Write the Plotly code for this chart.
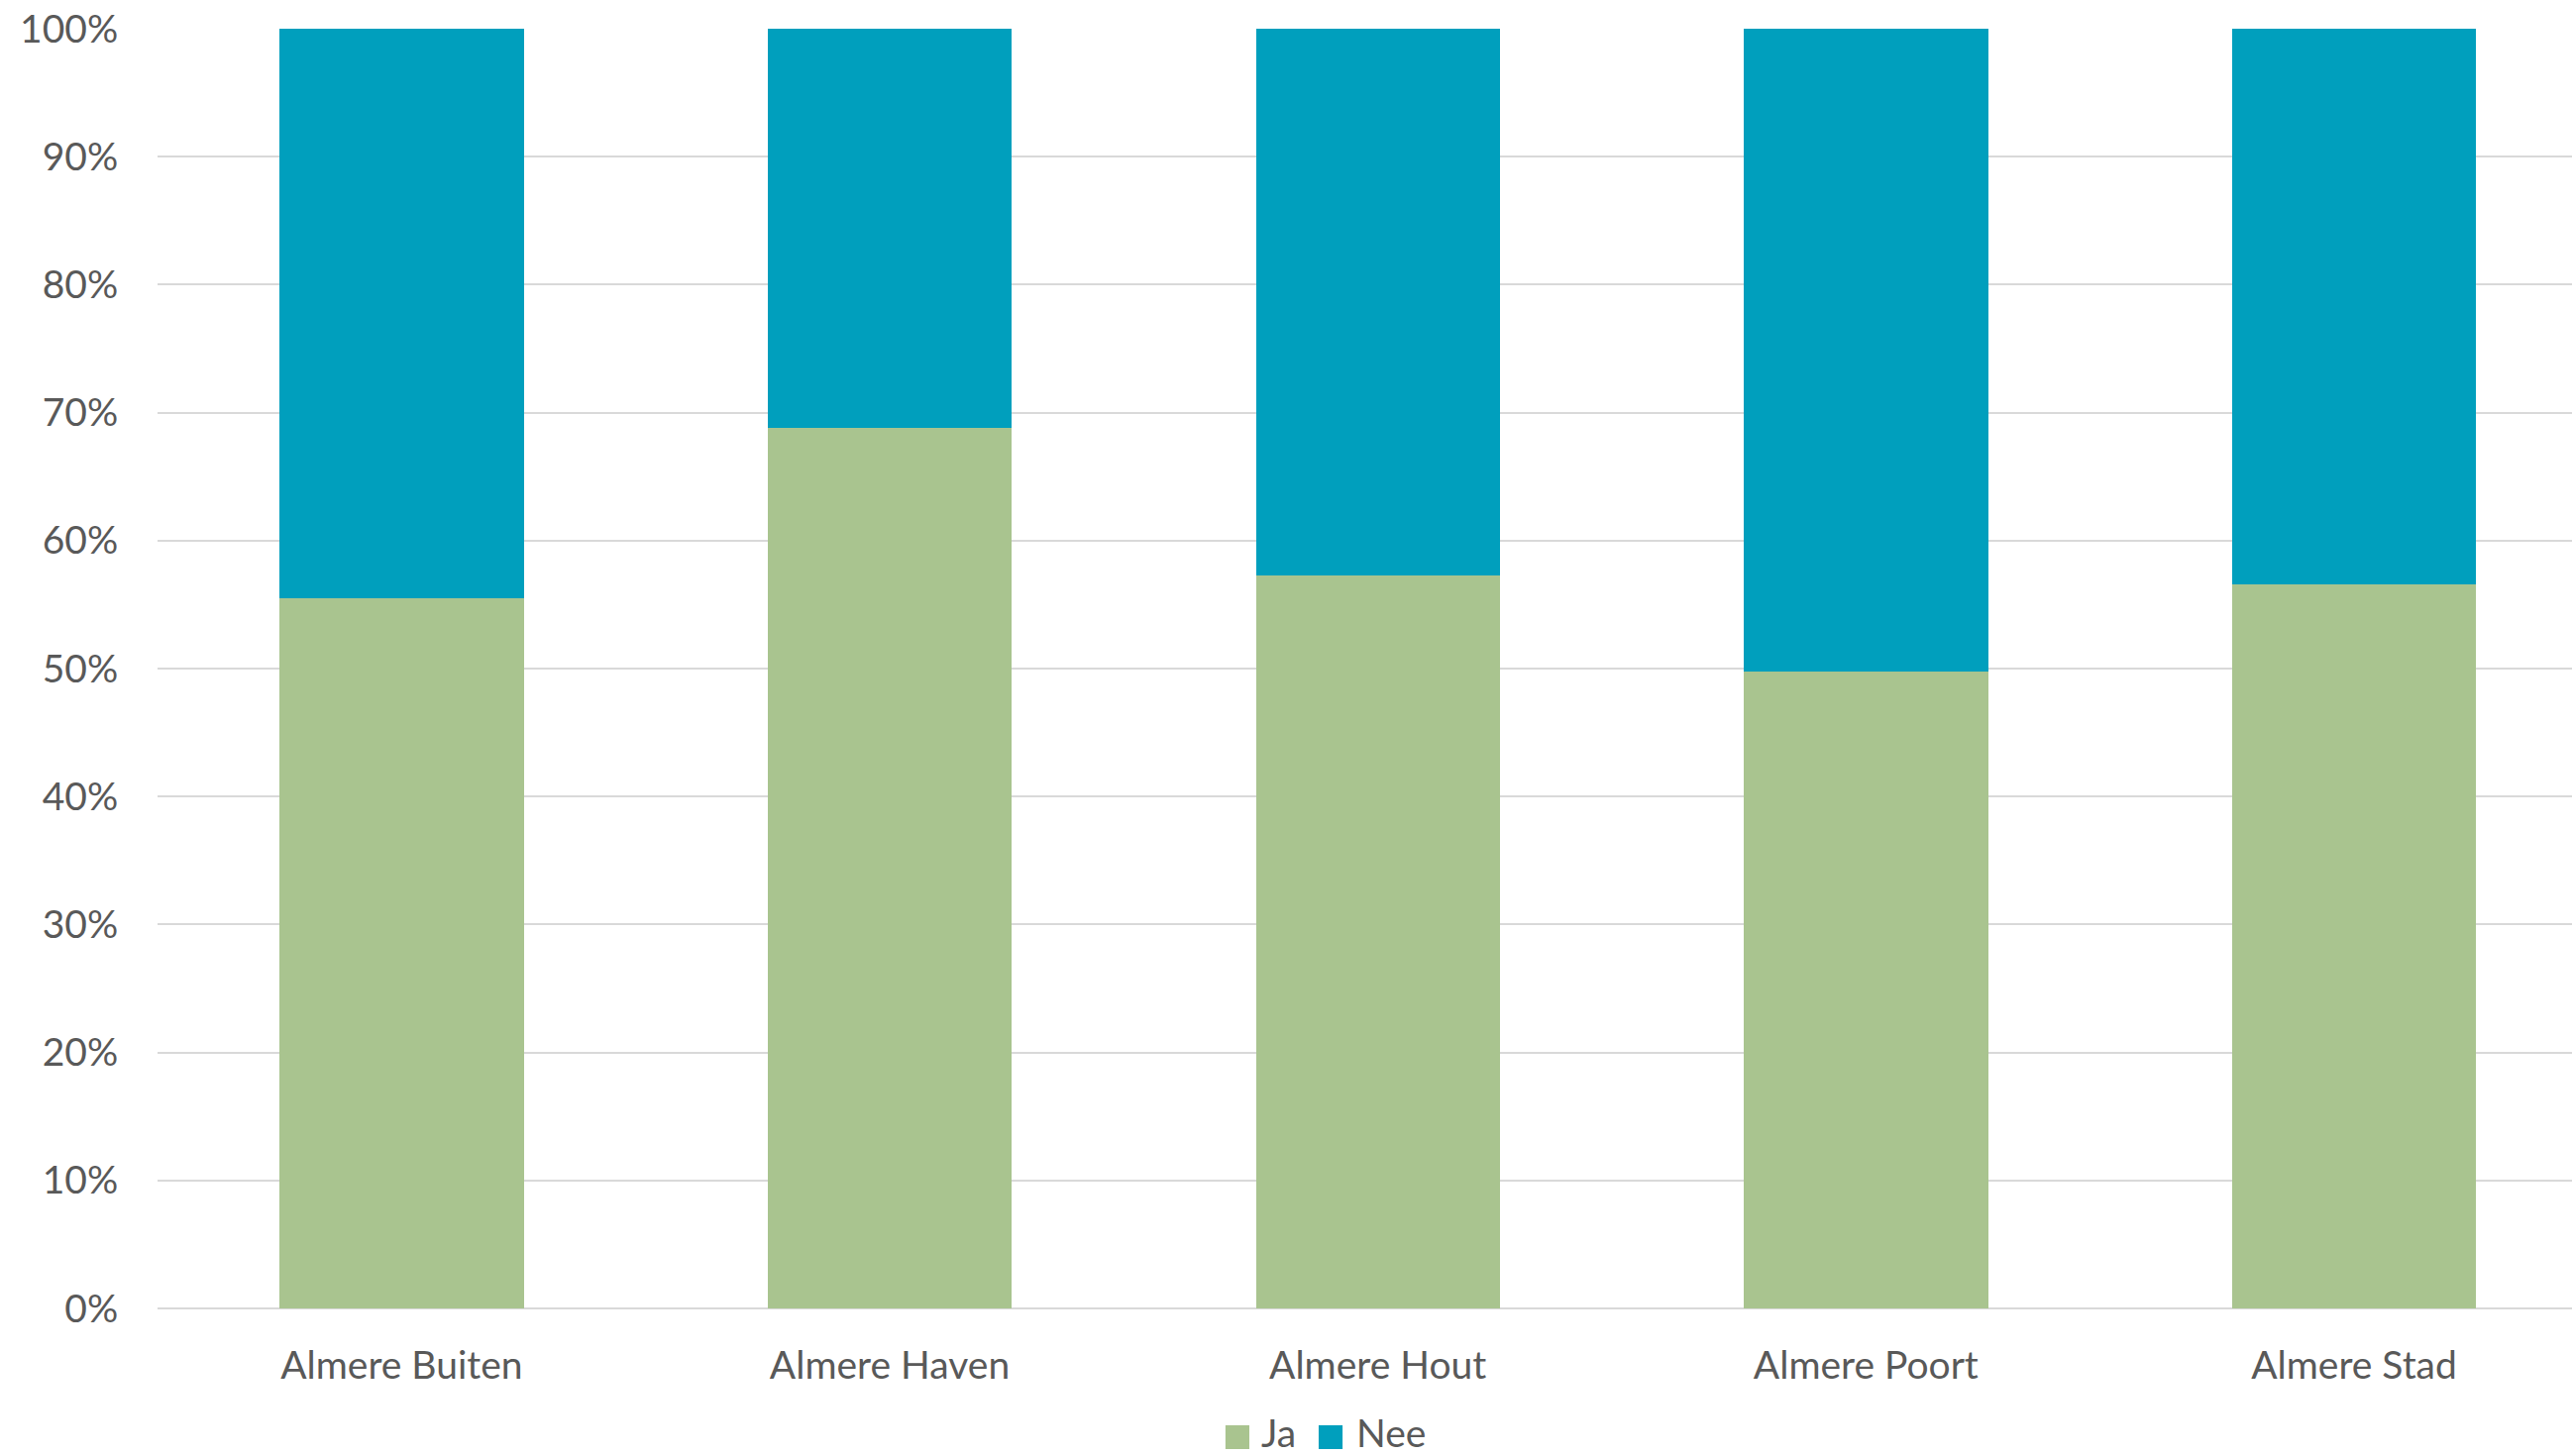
import plotly.graph_objects as go

categories = ["Almere Buiten", "Almere Haven", "Almere Hout", "Almere Poort", "Almere Stad"]
ja = [55.5, 68.8, 57.3, 49.8, 56.6]
nee = [44.5, 31.2, 42.7, 50.2, 43.4]
series_names = ["Ja", "Nee"]
series_colors = ["#A9C48F", "#009FBD"]
y_ticks = list(range(0, 101, 10))
y_labels = [f"{v}%" for v in y_ticks]

FONT = "Lato, 'Open Sans', sans-serif"
TXT = "#595959"
FS = 39

fig = go.Figure()
for name, vals, col in zip(series_names, [ja, nee], series_colors):
    fig.add_trace(go.Bar(name=name, x=categories, y=vals, width=0.5,
                         marker=dict(color=col, line=dict(width=0)), showlegend=False))

# legend drawn as squares + labels below the plot (paper coordinates)
leg_sq_x = [0.4423, 0.4809]
leg_txt_x = [0.4567, 0.4961]
for name, col, sx, tx in zip(series_names, series_colors, leg_sq_x, leg_txt_x):
    fig.add_shape(type="rect", xref="paper", yref="paper", x0=sx, x1=sx + 0.0099,
                  y0=-0.1099, y1=-0.0913, fillcolor=col, line=dict(width=0))
    fig.add_annotation(text=name, xref="paper", yref="paper", x=tx, y=-0.1153,
                       xanchor="left", yanchor="bottom", showarrow=False, borderpad=0,
                       font=dict(family=FONT, size=FS, color=TXT))

fig.update_layout(
    width=2596, height=1470,
    barmode="stack",
    paper_bgcolor="white", plot_bgcolor="white",
    margin=dict(l=159, r=0, t=29, b=149),
    font=dict(family=FONT, size=FS, color=TXT),
)
fig.update_xaxes(range=[-0.5, 4.4465], showgrid=False, showline=False, zeroline=False,
                 ticks="outside", ticklen=23, tickcolor="rgba(0,0,0,0)",
                 tickfont=dict(size=FS, color=TXT), ticklabeloverflow="allow")
fig.update_yaxes(range=[0, 100], tickvals=y_ticks, ticktext=y_labels,
                 showgrid=True, gridcolor="#D9D9D9", gridwidth=2, zeroline=True,
                 zerolinecolor="#D9D9D9", zerolinewidth=2, showline=False,
                 ticks="outside", ticklen=31, tickcolor="rgba(0,0,0,0)",
                 tickfont=dict(size=FS, color=TXT), ticklabeloverflow="allow")

fig.write_html("out.html", config={"displayModeBar": False},
               post_script="document.body.style.margin='0';document.body.style.overflow='hidden';")
